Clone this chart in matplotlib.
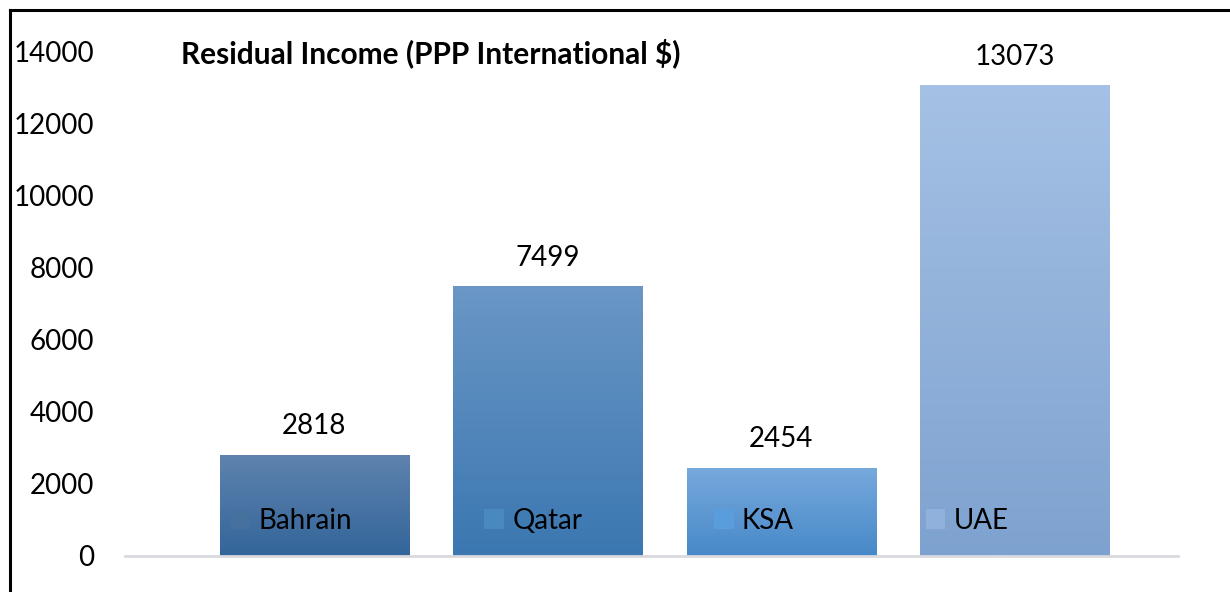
import numpy as np
import matplotlib.pyplot as plt
from matplotlib.colors import LinearSegmentedColormap
from matplotlib.lines import Line2D

countries = ["Bahrain", "Qatar", "KSA", "UAE"]
residual_income = [2818, 7499, 2454, 13073]
yticks = [0, 2000, 4000, 6000, 8000, 10000, 12000, 14000]

# top -> bottom gradient colours for each bar
top_colors = ["#5f83ae", "#6a97c5", "#77a9dc", "#a5c1e5"]
bottom_colors = ["#33659a", "#3b77b1", "#4789c9", "#7ea2cf"]
mid_colors = ["#46719f", "#4a88c2", "#5a9ddd", "#90b1db"]

plt.rcParams["font.family"] = ["Lato", "DejaVu Sans"]

fig = plt.figure(figsize=(12.3, 5.92), dpi=100)
ax = fig.add_axes([125 / 1230, 36 / 592, (1178 - 125) / 1230, (556 - 52) / 592])

x = np.arange(len(countries))
bars = ax.bar(x, residual_income, width=0.81, color=mid_colors, label=countries, zorder=2)

# vertical gradient fill clipped to each bar
grad = np.linspace(0, 1, 256).reshape(-1, 1)
for bar, c_top, c_bot in zip(bars, top_colors, bottom_colors):
    cmap = LinearSegmentedColormap.from_list("g", [c_top, c_bot])
    bx, by = bar.get_x(), bar.get_y()
    bw, bh = bar.get_width(), bar.get_height()
    im = ax.imshow(grad, cmap=cmap, aspect="auto", extent=[bx, bx + bw, by, by + bh],
                   origin="upper", zorder=2.5)
    im.set_clip_path(bar)

for xi, v in zip(x, residual_income):
    ax.text(xi, v + 430, str(v), ha="center", va="bottom", fontsize=20, color="black")

ax.set_xlim(-0.81, 3.70)
ax.set_ylim(0, 14000)
ax.set_yticks(yticks)
ax.set_yticklabels([str(t) for t in yticks], fontsize=20)
ax.tick_params(axis="y", length=0, pad=22)
ax.set_xticks([])
for s in ["top", "right", "left"]:
    ax.spines[s].set_visible(False)
ax.spines["bottom"].set_color("#d9d9de")
ax.spines["bottom"].set_linewidth(2)
ax.set_zorder(1)

fig.text(181 / 1230, 1 - 53 / 592, "Residual Income (PPP International $)",
         fontsize=21.5, fontweight="bold", va="center", ha="left")

leg = ax.legend(loc="lower left", bbox_to_anchor=(0.1007, 0.044), ncol=4, frameon=False,
                fontsize=20, handlelength=0.7, handleheight=0.7, handletextpad=0.3,
                columnspacing=4.75, borderpad=0, borderaxespad=0)
leg.set_zorder(5)

# outer frame lines (top and left)
fig.add_artist(Line2D([10 / 1230, 10 / 1230], [0, 1 - 10 / 592], transform=fig.transFigure,
                      color="black", lw=2.2))
fig.add_artist(Line2D([10 / 1230, 1], [1 - 10 / 592, 1 - 10 / 592], transform=fig.transFigure,
                      color="black", lw=2.2))

fig.savefig("out.png", dpi=100)
